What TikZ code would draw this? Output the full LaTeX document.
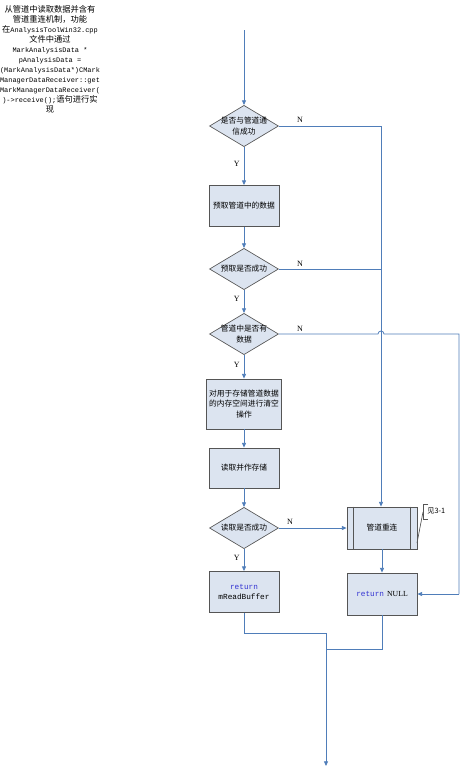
\documentclass[tikz,border=0pt]{standalone}
\usepackage{fontspec}
\setmainfont{Liberation Serif}
\setmonofont{Liberation Mono}
\newfontfamily\cjk{Noto Sans CJK SC}
\usetikzlibrary{shapes.geometric,arrows.meta}
\definecolor{lineblue}{RGB}{79,125,185}
\definecolor{boxfill}{RGB}{220,228,240}
\definecolor{boxline}{RGB}{85,85,85}
\definecolor{kwblue}{RGB}{50,50,210}
\begin{document}
\begin{tikzpicture}[x=0.75pt,y=-0.75pt,
  conn/.style={draw=lineblue,line width=0.6pt},
  arr/.style={conn,-{Triangle[length=3.5pt,width=3pt]}},
  procbox/.style={rectangle,draw=boxline,line width=0.65pt,fill=boxfill,minimum width=52.5pt,minimum height=30.75pt,inner sep=1pt,align=center,font=\cjk\fontsize{5.8pt}{8pt}\selectfont},
  dia/.style={diamond,draw=boxline,line width=0.5pt,fill=boxfill,minimum width=51.75pt,minimum height=31pt,inner sep=0pt},
  diatxt/.style={align=center,inner sep=0pt,font=\cjk\fontsize{5.8pt}{8pt}\selectfont},
  yn/.style={font=\fontsize{6pt}{7pt}\selectfont,inner sep=0pt}]
\useasboundingbox (0,0) rectangle (461,768);

% note text
\node[align=center,inner sep=0pt,font=\fontsize{5.2pt}{7.5pt}\selectfont] (note) at (50,59) {%
{\cjk\fontsize{6.2pt}{7.5pt}\selectfont 从管道中读取数据并含有}\\
{\cjk\fontsize{6.2pt}{7.5pt}\selectfont 管道重连机制，功能}\\
{\cjk\fontsize{6.2pt}{7.5pt}\selectfont 在}\texttt{AnalysisToolWin32.cpp}\\
{\cjk\fontsize{6.2pt}{7.5pt}\selectfont 文件中通过}\\
\texttt{MarkAnalysisData *}\\
\texttt{pAnalysisData =}\\
\texttt{(MarkAnalysisData*)CMark}\\
\texttt{ManagerDataReceiver::get}\\
\texttt{MarkManagerDataReceiver(}\\
\texttt{)->receive();}{\cjk\fontsize{6.2pt}{7.5pt}\selectfont 语句进行实}\\
{\cjk\fontsize{6.2pt}{7.5pt}\selectfont 现}};

\coordinate (start) at (244,30);

\node[dia] (d1) at (244,126) {};
\node[diatxt] (d1t) at (d1) {是否与管道通\\信成功};
\node[procbox] (b1) at (244,206) {预取管道中的数据};
\node[dia] (d2) at (244,269) {};
\node[diatxt] (d2t) at (d2) {预取是否成功};
\node[dia] (d3) at (244,334) {};
\node[diatxt] (d3t) at (d3) {管道中是否有\\数据};
\node[procbox,minimum width=56pt,minimum height=37.5pt] (b2) at (244,404) {对用于存储管道数据\\的内存空间进行清空\\操作};
\node[procbox,minimum height=30pt] (b3) at (244,468) {读取并作存储};
\node[dia] (d4) at (244,528) {};
\node[diatxt] (d4t) at (d4) {读取是否成功};
\node[procbox] (b4) at (244,592) {\texttt{\textcolor{kwblue}{return}}\\\texttt{mReadBuffer}};

\node[procbox,minimum height=31.5pt] (r1) at (382,528) {管道重连};
\draw[boxline,line width=0.65pt] ([xshift=5.25pt]r1.north west) -- ([xshift=5.25pt]r1.south west);
\draw[boxline,line width=0.65pt] ([xshift=-5.25pt]r1.north east) -- ([xshift=-5.25pt]r1.south east);
\node[procbox,minimum height=31.5pt] (r2) at (382,594) {\texttt{\textcolor{kwblue}{return}}\, {\rmfamily NULL}};

% annotation
\coordinate (a1) at (417,543);
\coordinate (a2) at (423,512);
\coordinate (a3) at (423,504);
\coordinate (a4) at (423,519);
\draw[boxline,line width=0.5pt] (a1) -- (a2);
\draw[boxline,line width=0.5pt] ([xshift=4pt]a3) -- (a3) -- (a4) -- ([xshift=4pt]a4);
\node[anchor=west,inner sep=0pt,font=\cjk\fontsize{5.5pt}{7pt}\selectfont] (see) at (427,511) {见3-1};

% main flow
\draw[arr] (start) -- (d1.north);
\draw[arr] (d1.south) -- node[yn,pos=0.45,left=3pt] (y1) {Y} (b1.north);
\draw[arr] (b1.south) -- (d2.north);
\draw[arr] (d2.south) -- node[yn,pos=0.4,left=3pt] (y2) {Y} (d3.north);
\draw[arr] (d3.south) -- node[yn,pos=0.4,left=3pt] (y3) {Y} (b2.north);
\draw[arr] (b2.south) -- (b3.north);
\draw[arr] (b3.south) -- (d4.north);
\draw[arr] (d4.south) -- node[yn,pos=0.4,left=3pt] (y4) {Y} (b4.north);

% N branches
\coordinate (c1) at (381,126);
\draw[arr] (d1.east) -- (c1) -- (r1.north -| c1);
\node[yn] (n1) at (300,120) {N};
\draw[conn] (d2.east) -- (381,269);
\node[yn] (n2) at (300,264) {N};
\coordinate (h1) at (378,334);
\coordinate (h2) at (459,334);
\coordinate (h3) at (459,594);
\draw[conn] (d3.east) -- (h1) arc[start angle=180,end angle=0,radius=2.25pt] -- (h2) -- (h3);
\draw[arr] (h3) -- (r2.east);
\node[yn] (n3) at (300,329) {N};
\draw[arr] (d4.east) -- (r1.west);
\node[yn] (n4) at (290,522) {N};
\draw[arr] (r1.south) -- (r2.north);

% merge
\coordinate (m1) at (244,633);
\coordinate (m2) at (326,633);
\coordinate (m3) at (382,649);
\coordinate (m4) at (326,649);
\coordinate (endp) at (326,766);
\draw[conn] (b4.south) -- (m1) -- (m2);
\draw[conn] (r2.south) -- (m3) -- (m4);
\draw[arr] (m2) -- (endp);
\end{tikzpicture}
\end{document}
